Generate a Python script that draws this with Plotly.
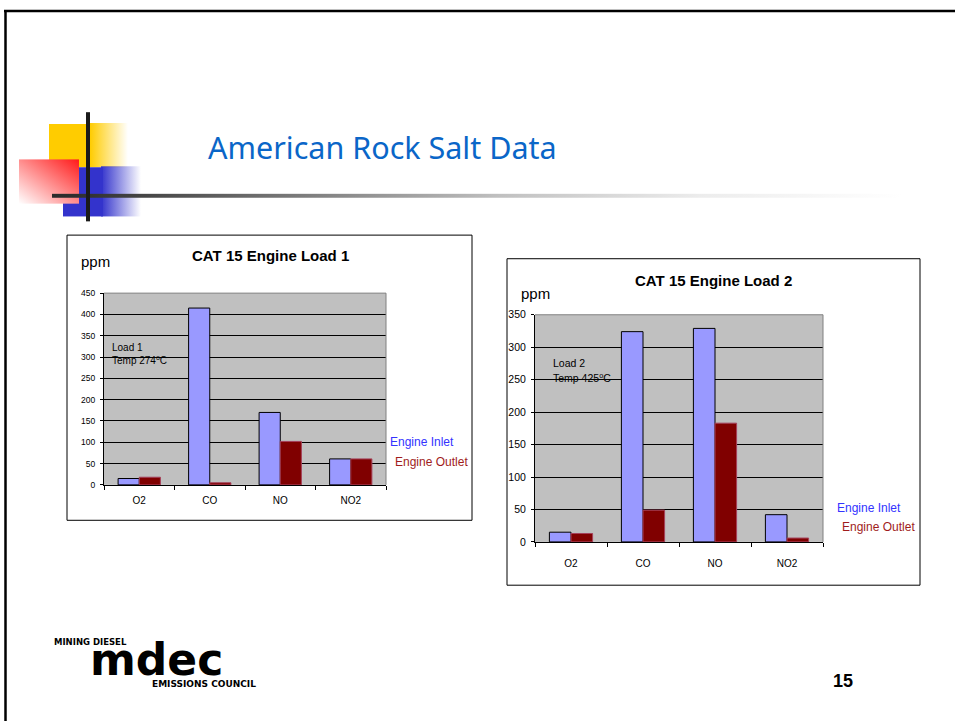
import base64
import plotly.graph_objects as go

# ---------------- data ----------------
categories = ["O2", "CO", "NO", "NO2"]
load1_inlet = [15, 415, 170, 61]
load1_outlet = [18, 5, 102, 61]
load2_inlet = [15, 324, 329, 42]
load2_outlet = [13, 49, 183, 6]
load1_yticks = [0, 50, 100, 150, 200, 250, 300, 350, 400, 450]
load2_yticks = [0, 50, 100, 150, 200, 250, 300, 350]
series_names = ["Engine Inlet", "Engine Outlet"]

W, H = 955, 721
FONT = "Liberation Sans, Arial, sans-serif"
INLET = "#9999FF"
OUTLET = "#800000"


def px(x):
    return x / W


def py(y):
    return 1 - y / H


fig = go.Figure()

for xa, ya, inl, outl in [("x", "y", load1_inlet, load1_outlet),
                          ("x2", "y2", load2_inlet, load2_outlet)]:
    fig.add_trace(go.Bar(x=categories, y=inl, name=series_names[0], xaxis=xa, yaxis=ya,
                         marker=dict(color=INLET, line=dict(color="#000000", width=1)),
                         showlegend=False))
    fig.add_trace(go.Bar(x=categories, y=outl, name=series_names[1], xaxis=xa, yaxis=ya,
                         marker=dict(color=OUTLET, line=dict(color="#a5405a", width=1)),
                         showlegend=False))

# plot areas (pixel boxes)
P1 = (104, 292, 386, 487)
P2 = (535, 314, 823, 545)


def xaxis(box, anchor, standoff):
    return dict(domain=[px(box[0]), px(box[2])], anchor=anchor, type="category",
                showline=True, linecolor="#000000", linewidth=1,
                ticks="outside", ticklen=4, tickcolor="#000000", tickson="boundaries",
                showgrid=False, zeroline=False, ticklabelstandoff=standoff,
                tickfont=dict(family=FONT, size=10, color="#000000"), fixedrange=True)


def yaxis(box, anchor, ticks, size, standoff):
    return dict(domain=[py(box[3]), py(box[1])], anchor=anchor,
                range=[0, ticks[-1]], tickvals=ticks, ticktext=[str(t) for t in ticks],
                showline=True, linecolor="#000000", linewidth=1,
                ticks="outside", ticklen=3, tickcolor="#000000",
                showgrid=True, gridcolor="#000000", gridwidth=1, zeroline=False,
                ticklabelstandoff=standoff,
                tickfont=dict(family=FONT, size=size, color="#000000"), fixedrange=True)


fig.update_layout(
    width=W, height=H, margin=dict(l=0, r=0, t=0, b=0),
    paper_bgcolor="#FFFFFF", plot_bgcolor="#C0C0C0",
    barmode="group", bargap=0.4, bargroupgap=0,
    xaxis=xaxis(P1, "y", 6),
    yaxis=yaxis(P1, "x", load1_yticks, 8.5, 3),
    xaxis2=xaxis(P2, "y2", 12),
    yaxis2=yaxis(P2, "x2", load2_yticks, 10.5, 3),
)

shapes = []
# slide border
shapes.append(dict(type="line", xref="paper", yref="paper", x0=px(4), x1=px(960), y0=py(5), y1=py(5),
                   line=dict(color="#000000", width=2.5)))
shapes.append(dict(type="line", xref="paper", yref="paper", x0=px(5.5), x1=px(5.5), y0=py(4), y1=py(730),
                   line=dict(color="#000000", width=2.5)))
# chart frames
for (x0, y0, x1, y1) in [(67, 233, 472, 523), (507, 257, 920, 589)]:
    shapes.append(dict(type="rect", xref="paper", yref="paper", x0=px(x0), x1=px(x1), y0=py(y0), y1=py(y1),
                       line=dict(color="#000000", width=1), fillcolor="rgba(0,0,0,0)", layer="below"))
# gray plot borders (top and right)
for (x0, y0, x1, y1) in [P1, P2]:
    shapes.append(dict(type="line", xref="paper", yref="paper", x0=px(x0), x1=px(x1), y0=py(y0), y1=py(y0),
                       line=dict(color="#808080", width=1), layer="above"))
    shapes.append(dict(type="line", xref="paper", yref="paper", x0=px(x1), x1=px(x1), y0=py(y0), y1=py(y1),
                       line=dict(color="#808080", width=1), layer="above"))
fig.update_layout(shapes=shapes)

# decoration (gradient blocks) as inline SVG image
svg = """<svg xmlns="http://www.w3.org/2000/svg" width="955" height="721" viewBox="0 0 955 721">
<defs>
<linearGradient id="yg" x1="0" y1="0" x2="1" y2="0"><stop offset="0" stop-color="#FFCC00"/><stop offset="1" stop-color="#FFCC00" stop-opacity="0"/></linearGradient>
<linearGradient id="bg" x1="0" y1="0" x2="1" y2="0"><stop offset="0" stop-color="#3333CC"/><stop offset="1" stop-color="#3333CC" stop-opacity="0"/></linearGradient>
<linearGradient id="rg" x1="1" y1="0" x2="0" y2="1"><stop offset="0" stop-color="#FF1A1A"/><stop offset="1" stop-color="#FFFFFF"/></linearGradient>
<linearGradient id="hg" x1="0" y1="0" x2="1" y2="0"><stop offset="0" stop-color="#2a2a2a"/><stop offset="0.045" stop-color="#333333"/><stop offset="0.527" stop-color="#c0c0c0"/><stop offset="0.76" stop-color="#ececec"/><stop offset="1" stop-color="#ffffff"/></linearGradient>
</defs>
<rect x="49" y="120" width="41" height="44" fill="#FFCC00"/>
<rect x="90" y="119" width="38" height="45" fill="url(#yg)"/>
<rect x="63" y="164" width="40" height="50" fill="#3333CC"/>
<rect x="101" y="163" width="40" height="51" fill="url(#bg)"/>
<rect x="19" y="156" width="60" height="45" fill="url(#rg)"/>
<rect x="52" y="191" width="850" height="4" fill="url(#hg)"/>
<rect x="86" y="108" width="4" height="111" fill="#1a1a1a"/>
</svg>"""
src = "data:image/svg+xml;base64," + base64.b64encode(svg.encode()).decode()
fig.add_layout_image(dict(source=src, xref="paper", yref="paper", x=0, y=1, sizex=1, sizey=1,
                          xanchor="left", yanchor="top", sizing="stretch", layer="below"))


def ann(text, x, y, size, color="#000000", bold=False, xanchor="left", family=FONT):
    if bold:
        text = "<b>" + text + "</b>"
    fig.add_annotation(text=text, xref="paper", yref="paper", x=px(x), y=py(y),
                       xanchor=xanchor, yanchor="middle", showarrow=False,
                       font=dict(family=family, size=size, color=color))


# slide title
ann("American Rock Salt Data", 206, 143, 30.5, color="#0A66C8", family="Noto Sans, Liberation Sans, sans-serif")
# chart 1 texts
ann("CAT 15 Engine Load 1", 270, 254, 15, bold=True, xanchor="center")
ann("ppm", 79, 260, 15)
ann("Load 1", 110, 347, 10)
ann("Temp 274<sup>o</sup>C", 110, 360, 10)
ann(series_names[0], 388, 443, 12, color="#3333FF")
ann(series_names[1], 393, 464, 12, color="#A01C1C")
# chart 2 texts
ann("CAT 15 Engine Load 2", 713, 279, 15, bold=True, xanchor="center")
ann("ppm", 519, 292, 15)
ann("Load 2", 551, 363, 10.5)
ann("Temp 425<sup>o</sup>C", 551, 378, 10.5)
ann(series_names[0], 835, 511, 12, color="#3333FF")
ann(series_names[1], 840, 530, 12, color="#A01C1C")
# page number
ann("15", 843, 686, 18, bold=True, xanchor="center")
# logo
ann("MINING DIESEL", 52, 647, 8.5, bold=True, family="DejaVu Sans, sans-serif")
ann("<b>mdec</b>", 156, 665, 44, xanchor="center", family="DejaVu Sans, sans-serif")
ann("EMISSIONS COUNCIL", 150, 689, 9, bold=True, family="DejaVu Sans, sans-serif")

fig.write_html("out.html", config={"displayModeBar": False},
               post_script="document.body.style.margin='0';document.body.style.padding='0';")
